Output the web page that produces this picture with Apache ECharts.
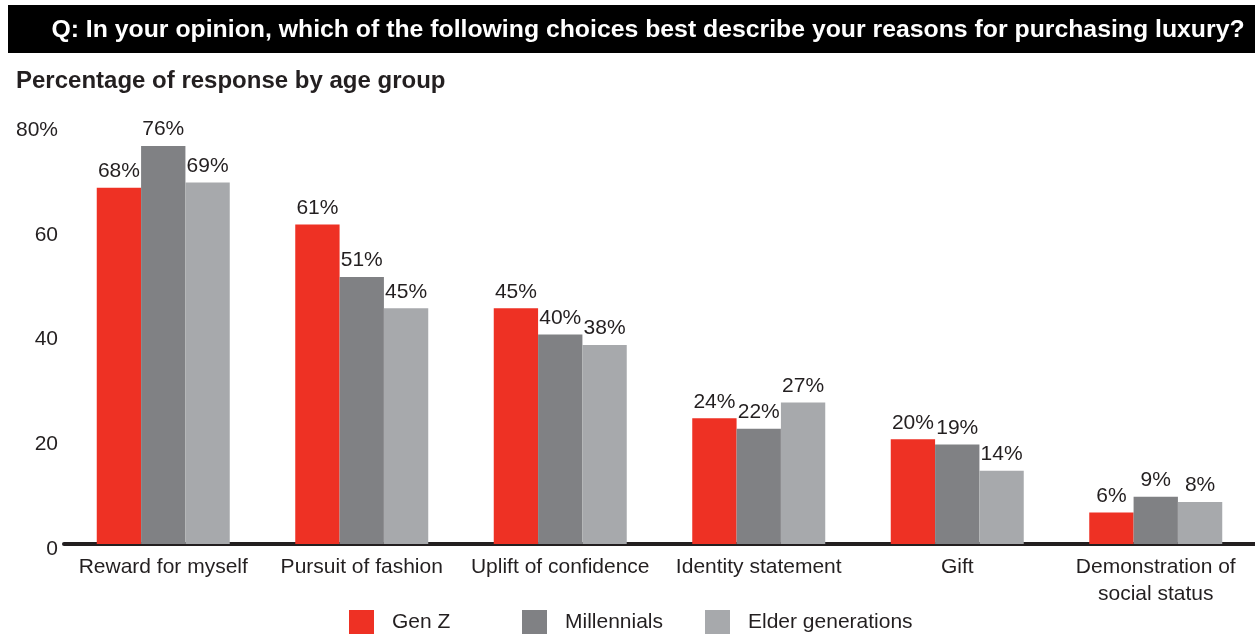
<!DOCTYPE html>
<html><head><meta charset="utf-8">
<script src="https://cdn.jsdelivr.net/npm/echarts@6/dist/echarts.min.js"></script>
<style>html,body{margin:0;padding:0;background:#fff}#c{width:1255px;height:635px}</style>
</head><body><div id="c"></div>
<script>
var categories = ['Reward for myself','Pursuit of fashion','Uplift of confidence','Identity statement','Gift','Demonstration of\nsocial status'];
var genZ = [68, 61, 45, 24, 20, 6];
var millennials = [76, 51, 40, 22, 19, 9];
var elder = [69, 45, 38, 27, 14, 8];
var seriesNames = ['Gen Z','Millennials','Elder generations'];
var colors = ['#EE3124','#808184','#A7A9AC'];
var yTicks = [0, 20, 40, 60, 80];

var font = 'Liberation Sans, Arial, sans-serif';
var chart = echarts.init(document.getElementById('c'));
function mk(name, data, color){
  return {name:name, type:'bar', data:data, barGap:'0%', barCategoryGap:'33%',
    itemStyle:{color:color},
    label:{show:true, position:'top', distance:6, formatter:'{c}%', color:'#231F20', fontSize:21, fontFamily:font}};
}
function lg(name, left){
  return {data:[name], left:left, top:610, padding:0, itemWidth:25, itemHeight:24, icon:'rect', itemGap:0,
    textStyle:{fontSize:21, fontFamily:font, color:'#231F20', padding:[2,0,0,13]}, selectedMode:false};
}
chart.setOption({
  animation:false,
  textStyle:{fontFamily:font},
  graphic:[
    {type:'rect', shape:{x:8,y:5,width:1247,height:48}, style:{fill:'#000'}},
    {type:'text', x:648, y:30, style:{text:'Q: In your opinion, which of the following choices best describe your reasons for purchasing luxury?', fill:'#fff', fontSize:24.8, fontWeight:'bold', fontFamily:font, align:'center', verticalAlign:'middle'}},
    {type:'text', x:16, y:81, style:{text:'Percentage of response by age group', fill:'#231F20', fontSize:24, fontWeight:'bold', fontFamily:font, verticalAlign:'middle'}}
  ],
  legend:[lg(seriesNames[0], 349), lg(seriesNames[1], 522), lg(seriesNames[2], 705)],
  grid:{left:64, right:0, top:125, bottom:91, containLabel:false},
  xAxis:{type:'category', data:categories,
    axisLine:{lineStyle:{color:'#231F20', width:4}}, axisTick:{show:false},
    axisLabel:{interval:0, color:'#231F20', fontSize:21, margin:10, lineHeight:27, fontFamily:font}},
  yAxis:{type:'value', min:0, max:80, interval:20,
    axisLine:{show:false}, axisTick:{show:false}, splitLine:{show:false},
    axisLabel:{color:'#231F20', fontSize:21, margin:6, verticalAlign:'top', lineHeight:10, fontFamily:font, formatter:function(v){return v===80? v+'%' : String(v);}}},
  series:[mk(seriesNames[0], genZ, colors[0]), mk(seriesNames[1], millennials, colors[1]), mk(seriesNames[2], elder, colors[2])]
});
</script></body></html>
